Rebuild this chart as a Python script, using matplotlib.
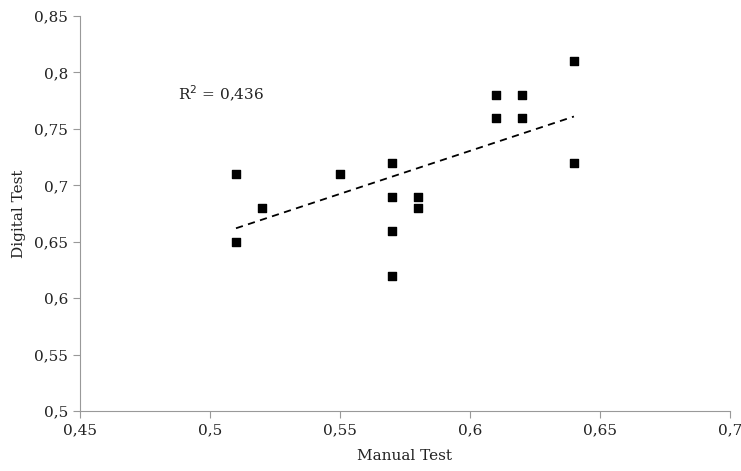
import numpy as np
import matplotlib.pyplot as plt
from matplotlib.ticker import FuncFormatter

manual = [0.51, 0.51, 0.52, 0.55, 0.57, 0.57, 0.57, 0.57,
          0.58, 0.58, 0.61, 0.61, 0.62, 0.62, 0.64, 0.64]
digital = [0.71, 0.65, 0.68, 0.71, 0.72, 0.69, 0.66, 0.62,
           0.69, 0.68, 0.78, 0.76, 0.78, 0.76, 0.81, 0.72]
# linear trend line as drawn in the source (ends)
trend_x = [0.51, 0.64]
trend_y = [0.662, 0.761]

plt.rcParams['font.family'] = ['DejaVu Serif']

fig = plt.figure(figsize=(7.41, 4.71), dpi=100)
ax = fig.add_axes([0.108, 0.127, 0.877, 0.839])

ax.scatter(manual, digital, marker='s', s=40, color='black', zorder=3)
ax.plot(trend_x, trend_y, color='black', ls=(0, (4, 3)), lw=1.3)

ax.set_xlim(0.45, 0.7)
ax.set_ylim(0.5, 0.85)
ax.set_xticks(np.arange(0.45, 0.701, 0.05))
ax.set_yticks(np.arange(0.5, 0.851, 0.05))
fmt = FuncFormatter(lambda v, p: f"{v:.2f}".rstrip('0').rstrip('.').replace('.', ','))
ax.xaxis.set_major_formatter(fmt)
ax.yaxis.set_major_formatter(fmt)

for s in ['top', 'right']:
    ax.spines[s].set_visible(False)
for s in ['left', 'bottom']:
    ax.spines[s].set_color('#999999')
ax.tick_params(colors='#999999', labelcolor='#222222', labelsize=11, length=5, direction='out')

ax.set_xlabel('Manual Test', fontsize=11, labelpad=9, color='#222222')
ax.set_ylabel('Digital Test', fontsize=11, labelpad=6, color='#222222')

ax.text(0.4875, 0.781, 'R$^2$ = 0,436', fontsize=11, va='center', color='#222222')

fig.savefig('out.png', dpi=100)
